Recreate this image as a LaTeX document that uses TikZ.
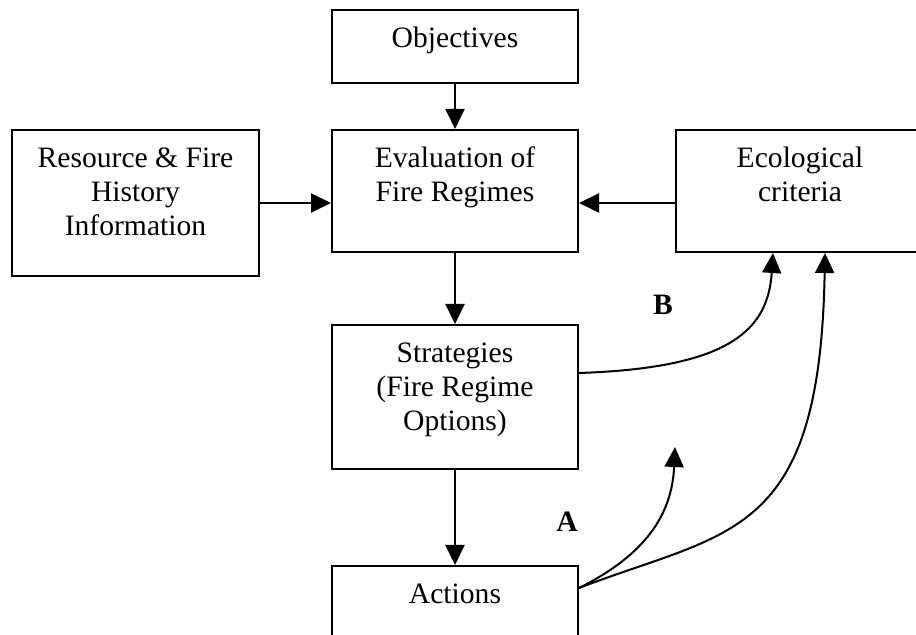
\documentclass[tikz,border=0pt]{standalone}
\usepackage{fontspec}
\setmainfont{Liberation Serif}
\usetikzlibrary{arrows.meta}

% text set at the top of a box of fixed height
\newcommand{\boxlines}[2]{\parbox[t][#1][t]{120pt}{\centering\rule{0pt}{18.75pt}#2}}

\begin{document}
\begin{tikzpicture}[x=0.5pt, y=-0.5pt,
            font=\fontsize{14.8}{17}\selectfont,
            box/.style={draw, line width=1pt, inner sep=0pt, minimum width=123pt},
            arrow/.style={-{Triangle[length=10pt,width=9.5pt]}, line width=1pt},
            lbl/.style={font=\fontsize{14.8}{17}\selectfont\bfseries}
        ]
            \useasboundingbox (0,0) rectangle (916,635);

            % Objectives on top
            \node[box] (obj) at (455,46.5) {\boxlines{36.5pt}{Objectives}};

            % Middle row
            \node[box, minimum width=123.5pt] (res) at (135.5,203) {\boxlines{73pt}{Resource \& Fire\\History\\Information}};
            \node[box] (eval) at (455,191) {\boxlines{61pt}{Evaluation of\\Fire Regimes}};
            \node[box, minimum width=124pt] (eco) at (800,191) {\boxlines{61pt}{Ecological\\criteria}};

            % Strategies and actions below
            \node[box] (strat) at (455,397) {\boxlines{72pt}{Strategies\\(Fire Regime\\Options)}};
            \node[box] (act) at (455,611) {\boxlines{45pt}{Actions}};

            % Labels
            \node[lbl] (labB) at (663,305) {B};
            \node[lbl] (labA) at (567,522) {A};

            % Straight arrows
            \draw[arrow] (obj) -- (eval);
            \draw[arrow] (res.east) -- (res.east -| eval.west);
            \draw[arrow] (res.east -| eco.west) -- (res.east -| eval.east);
            \draw[arrow] (eval) -- (strat);
            \draw[arrow] (strat) -- (act);

            % Feedback curves
            \coordinate (stratout) at ([yshift=12pt]strat.east);
            \coordinate (actout) at ([yshift=11.5pt]act.east);
            \coordinate (tipA) at (675,447);
            \draw[arrow] (stratout) .. controls (730,368) and (768,330) .. ([xshift=-13.5pt]eco.south);
            \draw[arrow] (actout) .. controls (645,555) and (672,515) .. (tipA);
            \draw[arrow] (actout) .. controls (730,530) and (820,540) .. ([xshift=12.5pt]eco.south);

        \end{tikzpicture}
\end{document}
